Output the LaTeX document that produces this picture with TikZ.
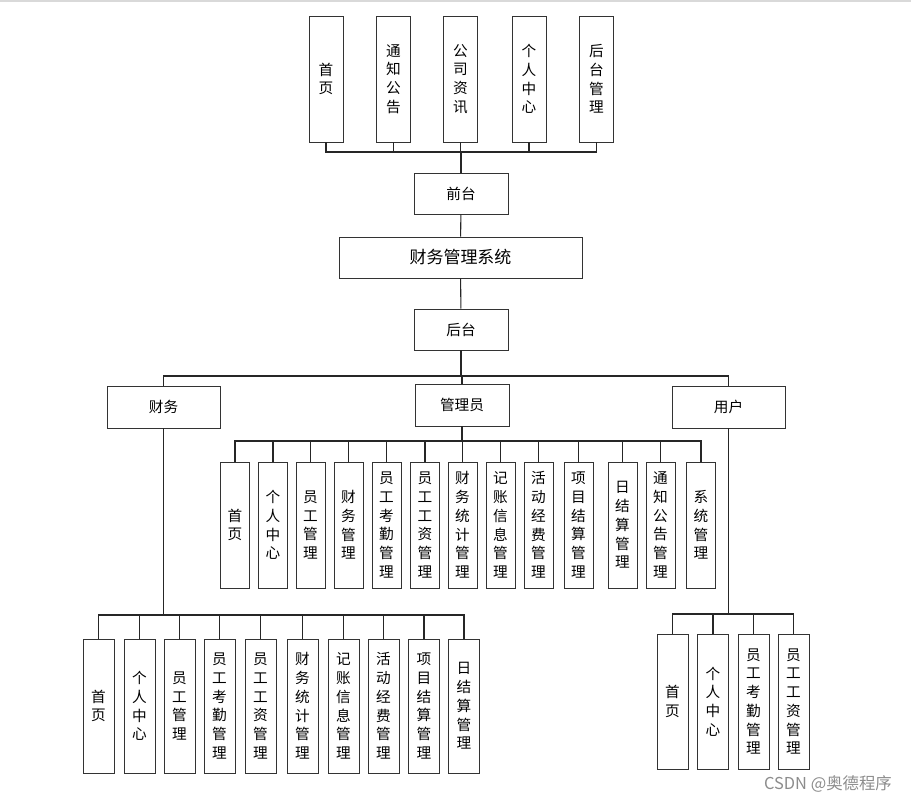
\documentclass[tikz,border=0pt]{standalone}
\usepackage{fontspec}
\setmainfont{Noto Sans CJK SC}
\begin{document}
\begin{tikzpicture}[x=0.03cm, y=-0.03cm,
    box/.style={draw=black!80, line width=0.8pt, fill=white, inner sep=0pt, align=center,
      font=\fontsize{12.5}{16}\selectfont},
    topbox/.style={box, minimum width=1.02cm, minimum height=3.78cm},
    flatbox/.style={box, minimum width=2.82cm, minimum height=1.23cm},
    rolebox/.style={box, minimum width=3.39cm, minimum height=1.26cm},
    glbox/.style={box, minimum width=0.87cm, minimum height=3.78cm},
    cwbox/.style={box, minimum width=0.93cm, minimum height=4.02cm},
    link/.style={draw=black!85, line width=0.9pt}]
    \useasboundingbox (0,0) rectangle (911,801);
    \draw[black!15, line width=1.2pt] (0,1) -- (911,1);

    % front end
    \node[flatbox] (qt) at (461,193.5) {前台};
    \foreach \i/\x/\t in {1/326/首\\页, 2/393.5/通\\知\\公\\告, 3/460.5/公\\司\\资\\讯,
                          4/529/个\\人\\中\\心, 5/596.5/后\\台\\管\\理}
      \node[topbox] (qt\i) at (\x,79) {\t};
    \coordinate (topbus) at (461,152);
    \foreach \i in {1,...,5}
      \draw[link] (qt.north) -- (qt.north |- topbus) -| (qt\i.south);

    \node[box, minimum width=7.29cm, minimum height=1.23cm,
      font=\fontsize{14.5}{16}\selectfont] (sys) at (460.5,257.5) {财务管理系统};
    \node[flatbox] (ht) at (461,329.5) {后台};
    \draw[link] (qt) -- (sys);
    \draw[link] (sys) -- (ht);

    % roles
    \node[rolebox] (cw) at (163.5,407) {财务};
    \node[flatbox, minimum height=1.26cm] (gly) at (462,405) {管理员};
    \node[rolebox] (yh) at (728.5,407) {用户};
    \coordinate (rolebus) at (461,376);
    \foreach \r in {cw,gly,yh}
      \draw[link] (ht.south) -- (ht.south |- rolebus) -| (\r.north);

    % admin
    \foreach \i/\x/\t in {1/235/首\\页, 2/273/个\\人\\中\\心, 3/310.5/员\\工\\管\\理,
                          4/348.5/财\\务\\管\\理, 5/386.5/员\\工\\考\\勤\\管\\理,
                          6/425/员\\工\\工\\资\\管\\理, 7/462.5/财\\务\\统\\计\\管\\理,
                          8/500.5/记\\账\\信\\息\\管\\理, 9/538.5/活\\动\\经\\费\\管\\理,
                          10/578.5/项\\目\\结\\算\\管\\理, 11/622.5/日\\结\\算\\管\\理,
                          12/660.5/通\\知\\公\\告\\管\\理, 13/701/系\\统\\管\\理}
      \node[glbox] (gl\i) at (\x,525) {\t};
    \coordinate (glbus) at (462,441);
    \foreach \i in {1,...,13}
      \draw[link] (gly.south) -- (gly.south |- glbus) -| (gl\i.north);

    % finance
    \foreach \i/\x/\t in {1/98.5/首\\页, 2/139.5/个\\人\\中\\心, 3/179.5/员\\工\\管\\理,
                          4/219.5/员\\工\\考\\勤\\管\\理, 5/260.5/员\\工\\工\\资\\管\\理,
                          6/302.5/财\\务\\统\\计\\管\\理, 7/343.5/记\\账\\信\\息\\管\\理,
                          8/383.5/活\\动\\经\\费\\管\\理, 9/424/项\\目\\结\\算\\管\\理,
                          10/464/日\\结\\算\\管\\理}
      \node[cwbox] (cw\i) at (\x,706) {\t};
    \coordinate (cwbus) at (163.5,615);
    \foreach \i in {1,...,10}
      \draw[link] (cw.south) -- (cw.south |- cwbus) -| (cw\i.north);

    % user
    \foreach \i/\x/\t in {1/672.5/首\\页, 2/713/个\\人\\中\\心,
                          3/753.5/员\\工\\考\\勤\\管\\理, 4/793.5/员\\工\\工\\资\\管\\理}
      \node[cwbox, minimum height=4.05cm] (yh\i) at (\x,701.5) {\t};
    \coordinate (yhbus) at (728.5,614);
    \foreach \i in {1,...,4}
      \draw[link] (yh.south) -- (yh.south |- yhbus) -| (yh\i.north);

    \node[text=black!45, font=\fontsize{14}{16}\selectfont] (wm) at (828,784) {CSDN @奥德程序};
\end{tikzpicture}
\end{document}
